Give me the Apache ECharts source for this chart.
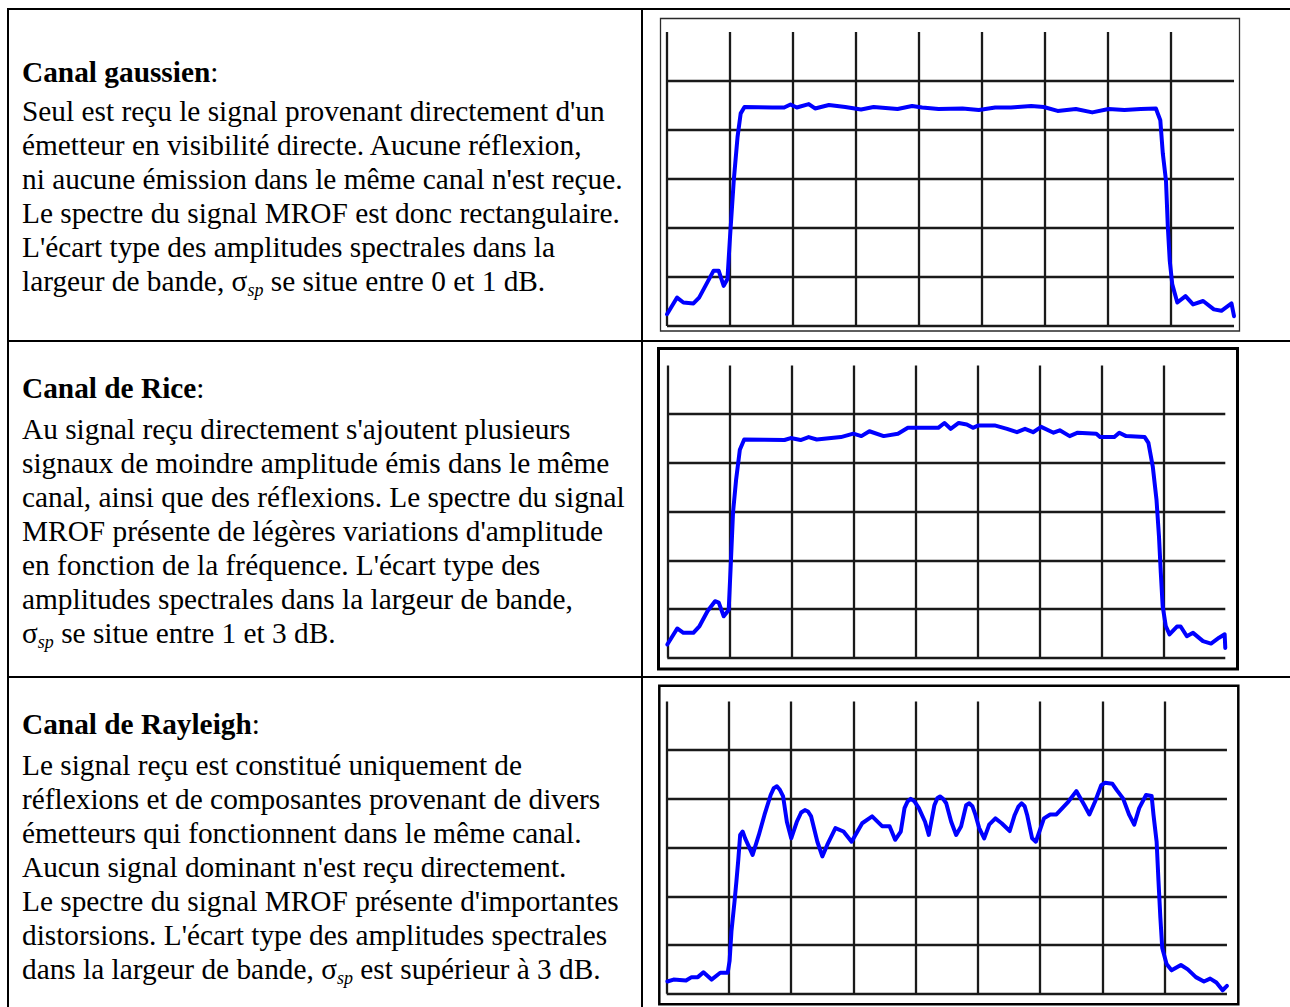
<!DOCTYPE html>
<html lang="fr">
<head>
<meta charset="utf-8">
<title>Canaux gaussien, de Rice et de Rayleigh</title>
<script src="https://cdn.jsdelivr.net/npm/echarts@6/dist/echarts.min.js"></script>
<style>
  html, body { margin:0; padding:0; background:#fff; }
  body { width:1290px; height:1007px; position:relative; overflow:hidden; }
  .rule { position:absolute; background:#000; }
  .txt { position:absolute; left:22px; font-family:"Liberation Serif","Times New Roman",serif; font-size:29.33px; line-height:34px; color:#000; white-space:nowrap; }
  .txt b { font-weight:bold; }
  .sub { font-style:italic; font-size:18px; position:relative; top:5px; }
  #chart { position:absolute; left:0; top:0; width:1290px; height:1007px; }
</style>
</head>
<body>
<div class="rule" style="left:7px;top:8px;width:1283px;height:2px"></div>
<div class="rule" style="left:7px;top:8px;width:2px;height:999px"></div>
<div class="rule" style="left:641px;top:8px;width:2px;height:999px"></div>
<div class="rule" style="left:7px;top:340px;width:1283px;height:2px"></div>
<div class="rule" style="left:7px;top:676px;width:1283px;height:2px"></div>

<div class="txt" style="top:55px"><b>Canal gaussien</b>:</div>
<div class="txt" style="top:94px">Seul est reçu le signal provenant directement d'un<br>émetteur en visibilité directe. Aucune réflexion,<br>ni aucune émission dans le même canal n'est reçue.<br>Le spectre du signal MROF est donc rectangulaire.<br>L'écart type des amplitudes spectrales dans la<br>largeur de bande, σ<span class="sub">sp</span> se situe entre 0 et 1 dB.</div>

<div class="txt" style="top:371px"><b>Canal de Rice</b>:</div>
<div class="txt" style="top:412px">Au signal reçu directement s'ajoutent plusieurs<br>signaux de moindre amplitude émis dans le même<br>canal, ainsi que des réflexions. Le spectre du signal<br>MROF présente de légères variations d'amplitude<br>en fonction de la fréquence. L'écart type des<br>amplitudes spectrales dans la largeur de bande,<br>σ<span class="sub">sp</span> se situe entre 1 et 3 dB.</div>

<div class="txt" style="top:707px"><b>Canal de Rayleigh</b>:</div>
<div class="txt" style="top:748px">Le signal reçu est constitué uniquement de<br>réflexions et de composantes provenant de divers<br>émetteurs qui fonctionnent dans le même canal.<br>Aucun signal dominant n'est reçu directement.<br>Le spectre du signal MROF présente d'importantes<br>distorsions. L'écart type des amplitudes spectrales<br>dans la largeur de bande, σ<span class="sub">sp</span> est supérieur à 3 dB.</div>

<div id="chart"></div>
<script>
// ---- Data (grid divisions; frequency in divisions, level in divisions) ----
const xGridTicks = [0, 1, 2, 3, 4, 5, 6, 7, 8];
const yGridTicks = [0, 1, 2, 3, 4, 5];
const xGridEnd = 9;
const yGridEnd = 6;

const gaussX = [0, 0.16, 0.26, 0.42, 0.51, 0.64, 0.74, 0.82, 0.90, 0.96, 1.0, 1.06, 1.12, 1.17, 1.23, 1.67, 1.86, 1.96, 2.06, 2.25, 2.35, 2.57, 2.83, 3.08, 3.28, 3.66, 3.89, 4.05, 4.31, 4.69, 4.95, 5.21, 5.46, 5.78, 5.98, 6.20, 6.49, 6.75, 7.01, 7.26, 7.52, 7.76, 7.83, 7.87, 7.92, 7.95, 7.98, 8.02, 8.10, 8.23, 8.35, 8.51, 8.68, 8.80, 8.96, 9.0];
const gaussY = [0.24, 0.58, 0.48, 0.46, 0.58, 0.89, 1.13, 1.13, 0.82, 0.96, 1.81, 2.97, 3.86, 4.34, 4.47, 4.46, 4.46, 4.52, 4.46, 4.53, 4.44, 4.51, 4.47, 4.42, 4.47, 4.43, 4.49, 4.46, 4.43, 4.44, 4.41, 4.46, 4.46, 4.49, 4.47, 4.39, 4.43, 4.36, 4.43, 4.41, 4.43, 4.44, 4.2, 3.52, 2.97, 2.01, 1.33, 0.85, 0.48, 0.61, 0.44, 0.51, 0.34, 0.31, 0.46, 0.2];

const riceX = [0, 0.16, 0.26, 0.42, 0.52, 0.65, 0.77, 0.83, 0.91, 0.99, 1.02, 1.06, 1.11, 1.17, 1.24, 1.89, 1.99, 2.15, 2.28, 2.41, 2.80, 3.0, 3.13, 3.26, 3.49, 3.72, 3.88, 4.11, 4.37, 4.47, 4.57, 4.70, 4.83, 4.93, 5.02, 5.28, 5.48, 5.64, 5.77, 5.90, 6.03, 6.23, 6.33, 6.49, 6.62, 6.92, 6.98, 7.21, 7.29, 7.40, 7.70, 7.76, 7.83, 7.89, 7.93, 7.96, 7.99, 8.04, 8.10, 8.22, 8.28, 8.38, 8.48, 8.64, 8.77, 8.90, 8.99, 9.0];
const riceY = [0.27, 0.6, 0.51, 0.51, 0.65, 0.96, 1.16, 1.13, 0.85, 0.98, 1.81, 2.98, 3.66, 4.27, 4.48, 4.47, 4.51, 4.47, 4.53, 4.48, 4.53, 4.6, 4.55, 4.65, 4.55, 4.6, 4.72, 4.72, 4.72, 4.82, 4.7, 4.82, 4.79, 4.72, 4.77, 4.77, 4.7, 4.63, 4.7, 4.63, 4.74, 4.62, 4.67, 4.55, 4.62, 4.6, 4.53, 4.53, 4.62, 4.55, 4.53, 4.41, 3.93, 3.25, 2.5, 1.74, 1.06, 0.65, 0.48, 0.64, 0.64, 0.44, 0.51, 0.34, 0.29, 0.41, 0.48, 0.2];

const rayX = [0.01, 0.11, 0.31, 0.40, 0.50, 0.59, 0.72, 0.86, 0.98, 1.01, 1.04, 1.09, 1.12, 1.15, 1.18, 1.22, 1.26, 1.38, 1.48, 1.57, 1.67, 1.72, 1.77, 1.82, 1.87, 1.93, 2.0, 2.09, 2.16, 2.22, 2.27, 2.32, 2.42, 2.50, 2.58, 2.71, 2.84, 2.97, 3.14, 3.30, 3.46, 3.58, 3.67, 3.76, 3.82, 3.87, 3.92, 3.98, 4.05, 4.15, 4.21, 4.30, 4.35, 4.39, 4.44, 4.49, 4.57, 4.65, 4.73, 4.81, 4.86, 4.91, 4.96, 5.02, 5.10, 5.18, 5.28, 5.38, 5.51, 5.59, 5.65, 5.70, 5.75, 5.79, 5.87, 5.93, 6.06, 6.16, 6.26, 6.45, 6.58, 6.71, 6.79, 6.88, 6.98, 7.04, 7.16, 7.23, 7.33, 7.43, 7.51, 7.59, 7.70, 7.79, 7.82, 7.87, 7.90, 7.93, 7.96, 8.03, 8.11, 8.26, 8.37, 8.50, 8.63, 8.73, 8.83, 8.93, 9.0];
const rayY = [0.25, 0.29, 0.27, 0.34, 0.34, 0.44, 0.29, 0.43, 0.43, 0.67, 1.28, 1.90, 2.31, 2.75, 3.26, 3.33, 3.19, 2.85, 3.26, 3.67, 4.08, 4.22, 4.26, 4.18, 4.05, 3.53, 3.19, 3.53, 3.72, 3.77, 3.74, 3.64, 3.12, 2.82, 3.06, 3.40, 3.33, 3.12, 3.50, 3.64, 3.44, 3.44, 3.16, 3.33, 3.81, 3.95, 4.00, 3.95, 3.81, 3.53, 3.26, 3.87, 4.02, 4.05, 4.00, 3.91, 3.53, 3.26, 3.44, 3.87, 3.91, 3.85, 3.67, 3.40, 3.19, 3.47, 3.60, 3.50, 3.34, 3.67, 3.84, 3.91, 3.85, 3.67, 3.19, 3.12, 3.60, 3.68, 3.68, 3.94, 4.16, 3.87, 3.68, 3.94, 4.28, 4.33, 4.31, 4.18, 4.01, 3.67, 3.47, 3.81, 4.08, 4.06, 3.67, 3.12, 2.31, 1.56, 0.94, 0.61, 0.48, 0.59, 0.50, 0.34, 0.25, 0.31, 0.23, 0.07, 0.16];

// ---- Layout (pixel frames of the three oscillograms and their axis windows) ----
const panels = [
  { left: 660.5, top: 18.5, width: 579, height: 312.5, xMin: -0.103, xMax: 9.087, yMin: -0.102, yMax: 6.276, border: '#2a2a2a', bw: 1.3, xs: gaussX, ys: gaussY },
  { left: 658.5, top: 348.5, width: 579, height: 320.5, xMin: -0.142, xMax: 9.197, yMin: -0.232, yMax: 6.349, border: '#000', bw: 3, xs: riceX, ys: riceY },
  { left: 659.3, top: 685.8, width: 579, height: 318.5, xMin: -0.119, xMax: 9.182, yMin: -0.218, yMax: 6.322, border: '#000', bw: 2.5, xs: rayX, ys: rayY }
];

const gridLineData = xGridTicks.map(k => ({ coords: [[k, 0], [k, yGridEnd]] }))
  .concat(yGridTicks.map(j => ({ coords: [[0, j], [xGridEnd, j]] })));

const grids = [], xAxes = [], yAxes = [], series = [];
panels.forEach((p, i) => {
  grids.push({ left: p.left, top: p.top, width: p.width, height: p.height, show: true,
    borderColor: p.border, borderWidth: p.bw, backgroundColor: '#fff', containLabel: false });
  xAxes.push({ type: 'value', gridIndex: i, min: p.xMin, max: p.xMax, show: false,
    splitLine: { show: false } });
  yAxes.push({ type: 'value', gridIndex: i, min: p.yMin, max: p.yMax, show: false,
    splitLine: { show: false } });
  series.push({
    type: 'lines', coordinateSystem: 'cartesian2d', xAxisIndex: i, yAxisIndex: i,
    silent: true, z: 1, animation: false,
    lineStyle: { color: '#1a1a1a', width: 2.3, opacity: 1, curveness: 0 },
    data: gridLineData
  });
  series.push({
    type: 'line', xAxisIndex: i, yAxisIndex: i, z: 5, animation: false,
    showSymbol: false, symbol: 'none', smooth: false, silent: true,
    lineStyle: { color: '#0000ff', width: 4, join: 'round', cap: 'round' },
    data: p.xs.map((x, k) => [x, p.ys[k]])
  });
});

const chart = echarts.init(document.getElementById('chart'), null, { renderer: 'canvas' });
chart.setOption({
  backgroundColor: 'transparent',
  animation: false,
  grid: grids,
  xAxis: xAxes,
  yAxis: yAxes,
  series: series
});
</script>
</body>
</html>
